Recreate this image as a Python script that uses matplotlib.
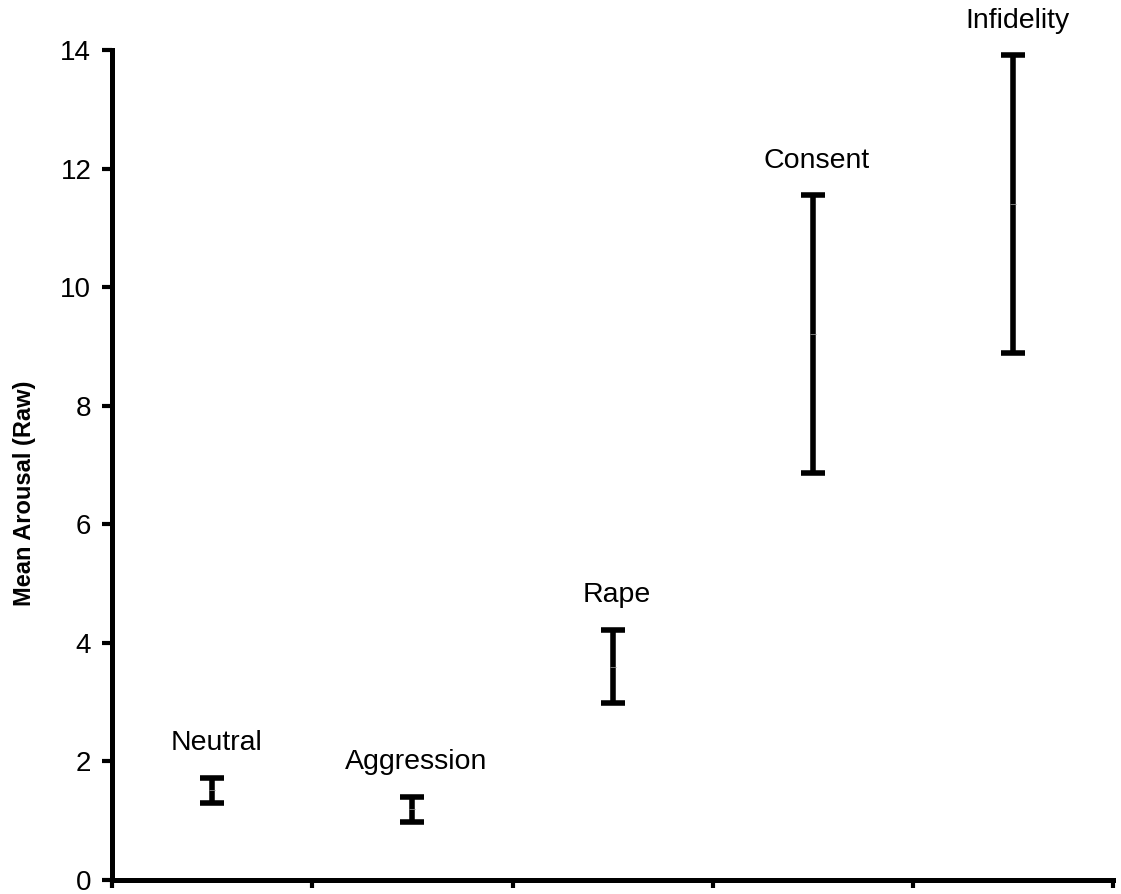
import numpy as np
import matplotlib
matplotlib.use("Agg")
import matplotlib.pyplot as plt

plt.rcParams['font.family'] = ['Liberation Sans', 'DejaVu Sans']

# mean arousal per film condition, with the half-width of each bar
conditions = ['Neutral', 'Aggression', 'Rape', 'Consent', 'Infidelity']
means = [1.51, 1.19, 3.60, 9.21, 11.40]
errors = [0.21, 0.21, 0.62, 2.34, 2.51]

x = np.arange(1, len(conditions) + 1)

fig = plt.figure(figsize=(11.21, 8.94), dpi=100)
ax = fig.add_axes([0.1, 0.0157, 0.893, 0.9283])

ax.errorbar(x, means, yerr=errors, fmt='none', ecolor='black',
            elinewidth=4, capsize=8.5, capthick=4)
# faint mark where the mean sits on each bar
ax.scatter(x, means, marker='_', s=16, color='0.55', linewidths=0.6, zorder=3)

for xi, m, e, name in zip(x, means, errors, conditions):
    ax.annotate(name, (xi, m + e), xytext=(3, 25), textcoords='offset points',
                ha='center', va='center', fontsize=20.5, annotation_clip=False)

ax.set_xlim(0.5, 5.5)
ax.set_ylim(0, 14)
ax.set_yticks(np.arange(0, 15, 2))
ax.set_xticks(np.arange(0.5, 6, 1))
ax.set_xticklabels([])

ax.set_ylabel('Mean Arousal (Raw)', fontsize=17, fontweight='bold')
ax.yaxis.set_label_coords(-0.076, 0.466)

for side in ['top', 'right']:
    ax.spines[side].set_visible(False)
for side in ['left', 'bottom']:
    ax.spines[side].set_linewidth(3.6)

ax.tick_params(axis='y', direction='out', length=7, width=3, labelsize=20, pad=8)
ax.tick_params(axis='x', direction='out', length=6, width=3)

plt.savefig('out.png', dpi=100)
